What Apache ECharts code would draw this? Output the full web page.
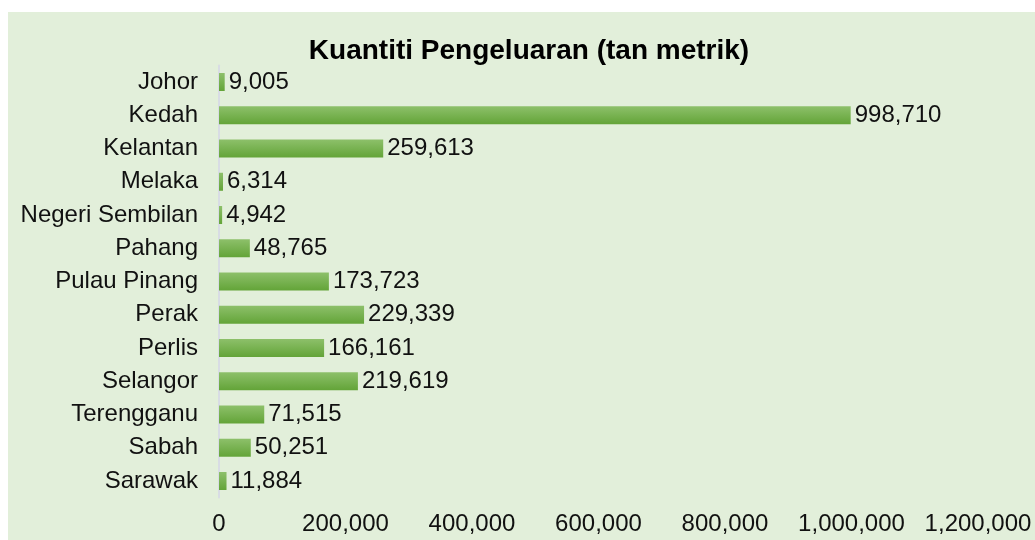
<!DOCTYPE html>
<html>
<head>
<meta charset="utf-8">
<script src="https://cdn.jsdelivr.net/npm/echarts@6/dist/echarts.min.js"></script>
<style>
  html, body { margin: 0; padding: 0; background: #ffffff; }
  #chart { position: absolute; left: 8px; top: 12px; width: 1027px; height: 528px; background: #e2efda; }
</style>
</head>
<body>
<div id="chart"></div>
<script>
// Production quantity by state (tonnes)
const states = ['Johor', 'Kedah', 'Kelantan', 'Melaka', 'Negeri Sembilan', 'Pahang',
  'Pulau Pinang', 'Perak', 'Perlis', 'Selangor', 'Terengganu', 'Sabah', 'Sarawak'];
const quantities = [9005, 998710, 259613, 6314, 4942, 48765,
  173723, 229339, 166161, 219619, 71515, 50251, 11884];
const xTicks = [0, 200000, 400000, 600000, 800000, 1000000, 1200000];
const titleText = 'Kuantiti Pengeluaran (tan metrik)';

const fmt = v => Number(v).toLocaleString('en-US');
const FONT = 'Liberation Sans, Arial, sans-serif';

const chart = echarts.init(document.getElementById('chart'), null, { renderer: 'canvas' });
chart.setOption({
  backgroundColor: 'transparent',
  animation: false,
  title: {
    text: titleText,
    left: 516,
    top: 20,
    textAlign: 'center',
    textStyle: { fontFamily: FONT, fontSize: 28, fontWeight: 'bold', color: '#000' }
  },
  grid: { left: 211, right: 57, top: 53.4, bottom: 42.4, containLabel: false },
  xAxis: {
    type: 'value',
    min: xTicks[0],
    max: xTicks[xTicks.length - 1],
    interval: xTicks[1] - xTicks[0],
    axisLine: { show: false },
    axisTick: { show: false },
    splitLine: { show: false },
    axisLabel: {
      margin: 15,
      fontFamily: FONT, fontSize: 24, color: '#111',
      formatter: v => fmt(v)
    }
  },
  yAxis: {
    type: 'category',
    inverse: true,
    data: states,
    axisLine: { show: true, lineStyle: { color: '#d8dce4', width: 2 } },
    axisTick: { show: false },
    axisLabel: { margin: 21, fontFamily: FONT, fontSize: 24, color: '#111' }
  },
  series: [{
    type: 'bar',
    data: quantities,
    barWidth: 18,
    itemStyle: {
      color: new echarts.graphic.LinearGradient(0, 0, 0, 1, [
        { offset: 0, color: '#8dc06a' },
        { offset: 1, color: '#63a438' }
      ])
    },
    label: {
      show: true,
      position: 'right',
      distance: 4,
      fontFamily: FONT, fontSize: 24, color: '#111',
      formatter: p => fmt(p.value)
    }
  }]
});
</script>
</body>
</html>
